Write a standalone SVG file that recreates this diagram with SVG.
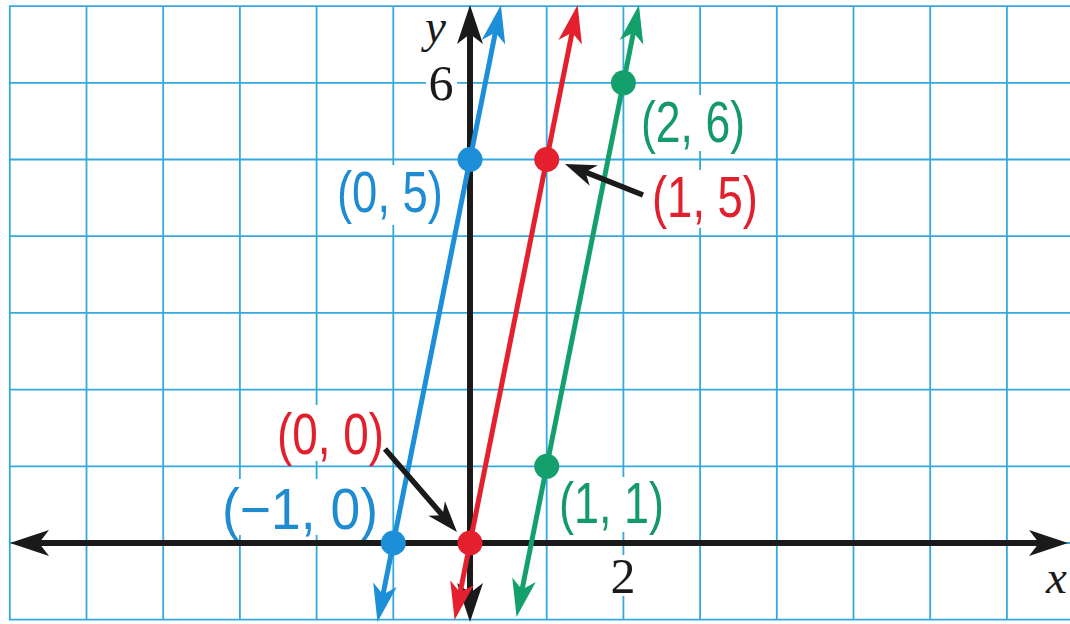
<svg xmlns="http://www.w3.org/2000/svg" width="1070" height="624" viewBox="0 0 1070 624">
<style>
.grid{stroke:#34a9e0;stroke-width:1.8;fill:none}
.ko{fill:#fff}
.lbl{font-family:"Liberation Sans",Arial,sans-serif;font-size:57px}
.num{font-family:"Liberation Serif","Times New Roman",serif;font-size:50px;text-anchor:middle;fill:#1a1a1a}
.ital{font-family:"Liberation Serif","Times New Roman",serif;font-style:italic;font-size:47px;fill:#1a1a1a}
.blue{fill:#1f8bd0}
.red{fill:#e1202e}
.green{fill:#14996a}
.axis{stroke:#1a1a1a;stroke-width:6;fill:none}
.ln{stroke-width:5;fill:none}
.ptr{stroke:#1a1a1a;stroke-width:5.5;fill:none}
</style>
<defs>
<marker id="ahK" viewBox="-40 -14 42 28" refX="-20" refY="0" markerWidth="42" markerHeight="28" markerUnits="userSpaceOnUse" orient="auto-start-reverse"><path d="M0,0 L-39,-13 L-29,0 L-39,13 Z" fill="#1a1a1a"/></marker>
<marker id="ahB" viewBox="-40 -14 42 28" refX="-20" refY="0" markerWidth="42" markerHeight="28" markerUnits="userSpaceOnUse" orient="auto-start-reverse"><path d="M0,0 L-38,-12 L-28,0 L-38,12 Z" fill="#1c8fd8"/></marker>
<marker id="ahR" viewBox="-40 -14 42 28" refX="-20" refY="0" markerWidth="42" markerHeight="28" markerUnits="userSpaceOnUse" orient="auto-start-reverse"><path d="M0,0 L-38,-12 L-28,0 L-38,12 Z" fill="#e4202e"/></marker>
<marker id="ahG" viewBox="-40 -14 42 28" refX="-20" refY="0" markerWidth="42" markerHeight="28" markerUnits="userSpaceOnUse" orient="auto-start-reverse"><path d="M0,0 L-38,-12 L-28,0 L-38,12 Z" fill="#14a06c"/></marker>
<marker id="ahP" viewBox="-34 -14 36 28" refX="-12" refY="0" markerWidth="36" markerHeight="28" markerUnits="userSpaceOnUse" orient="auto"><path d="M0,0 L-31,-11 L-22,0 L-31,11 Z" fill="#1a1a1a"/></marker>
</defs>
<rect width="1070" height="624" fill="#fff"/>
<g id="grid" class="grid">
<path d="M9.8,6V620M86.5,6V620M163.2,6V620M239.9,6V620M316.6,6V620M393.3,6V620M470,6V620M546.7,6V620M623.4,6V620M700.1,6V620M776.8,6V620M853.5,6V620M930.2,6V620M1006.9,6V620"/>
<path d="M9,6.1H1070M9,82.8H1070M9,159.5H1070M9,236.2H1070M9,312.9H1070M9,389.6H1070M9,466.3H1070M9,543H1070M9,619.7H1070"/>
</g>
<g id="knockouts" class="ko">
<rect x="333" y="165" width="114" height="60"/>
<rect x="637" y="95" width="112" height="56"/>
<rect x="648" y="170" width="114" height="58"/>
<rect x="273" y="405" width="115" height="56"/>
<rect x="218" y="479" width="164" height="56"/>
<rect x="555" y="477" width="113" height="55"/>
<rect x="426" y="63" width="31" height="40"/>
<rect x="607" y="555" width="33" height="41"/>
</g>
<g id="labels">
<text class="lbl blue" x="337" y="212" textLength="106" lengthAdjust="spacingAndGlyphs">(0, 5)</text>
<text class="lbl green" x="641" y="142" textLength="104" lengthAdjust="spacingAndGlyphs">(2, 6)</text>
<text class="lbl red" x="652" y="217" textLength="106" lengthAdjust="spacingAndGlyphs">(1, 5)</text>
<text class="lbl red" x="277" y="454" textLength="107" lengthAdjust="spacingAndGlyphs">(0, 0)</text>
<text class="lbl blue" x="222" y="529" textLength="156" lengthAdjust="spacingAndGlyphs">(−1, 0)</text>
<text class="lbl green" x="559" y="523" textLength="105" lengthAdjust="spacingAndGlyphs">(1, 1)</text>
<text class="num" x="441" y="100">6</text>
<text class="num" x="623" y="593">2</text>
<text class="ital" x="425" y="42">y</text>
<text class="ital" x="1046" y="593">x</text>
</g>
<g id="connectors">
<path id="x-axis" class="axis" d="M30,543H1048" marker-start="url(#ahK)" marker-end="url(#ahK)"/>
<path id="y-axis" class="axis" d="M470,25V602" marker-start="url(#ahK)" marker-end="url(#ahK)"/>
<path id="line-blue" class="ln" stroke="#1c8fd8" d="M496.98,24.6L381.42,602.4" marker-start="url(#ahB)" marker-end="url(#ahB)"/>
<path id="line-red" class="ln" stroke="#e4202e" d="M573.68,24.6L458.52,600.4" marker-start="url(#ahR)" marker-end="url(#ahR)"/>
<path id="line-green" class="ln" stroke="#14a06c" d="M635.04,24.6L520.48,597.4" marker-start="url(#ahG)" marker-end="url(#ahG)"/>
<path id="ptr-15" class="ptr" d="M643,195L576.1,168.4" marker-end="url(#ahP)"/>
<path id="ptr-00" class="ptr" d="M385,449L449.1,522.9" marker-end="url(#ahP)"/>
</g>
<g id="points">
<circle id="p-m10" cx="393.3" cy="543" r="12.5" fill="#1c8fd8"/>
<circle id="p-05" cx="470" cy="159.5" r="12.5" fill="#1c8fd8"/>
<circle id="p-00" cx="470" cy="543" r="12.5" fill="#e4202e"/>
<circle id="p-15" cx="546.7" cy="159.5" r="12.5" fill="#e4202e"/>
<circle id="p-11" cx="546.7" cy="466.3" r="12.5" fill="#14a06c"/>
<circle id="p-26" cx="623.4" cy="82.8" r="12.5" fill="#14a06c"/>
</g>
</svg>
